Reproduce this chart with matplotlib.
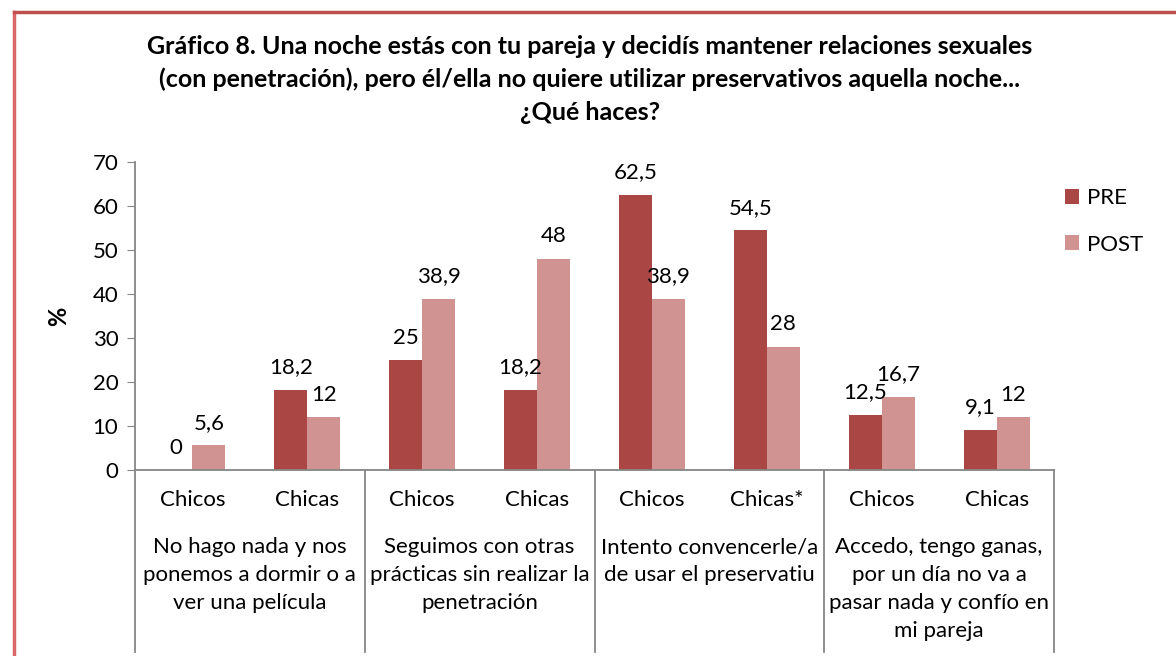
import matplotlib
matplotlib.use("Agg")
import matplotlib.pyplot as plt
from matplotlib.transforms import blended_transform_factory
from matplotlib.lines import Line2D

plt.rcParams['font.family'] = ['Lato', 'DejaVu Sans']

categories = ["Chicos", "Chicas", "Chicos", "Chicas", "Chicos", "Chicas*", "Chicos", "Chicas"]
groups = [
    "No hago nada y nos\nponemos a dormir o a\nver una película",
    "Seguimos con otras\nprácticas sin realizar la\npenetración",
    "Intento convencerle/a\nde usar el preservatiu",
    "Accedo, tengo ganas,\npor un día no va a\npasar nada y confío en\nmi pareja",
]
pre = [0, 18.2, 25, 18.2, 62.5, 54.5, 12.5, 9.1]
post = [5.6, 12, 38.9, 48, 38.9, 28, 16.7, 12]
series_names = ["PRE", "POST"]
title = ("Gráfico 8. Una noche estás con tu pareja y decidís mantener relaciones sexuales\n"
         "(con penetración), pero él/ella no quiere utilizar preservativos aquella noche...\n"
         "¿Qué haces?")

W, H = 1176, 656
fig = plt.figure(figsize=(W / 100, H / 100), dpi=100)
ax = fig.add_axes([135 / W, 1 - 470 / H, (1054 - 135) / W, (470 - 162) / H])

c_pre = "#AA4643"
c_post = "#D09392"
axis_c = "#868686"
bw = 0.287
xs = list(range(len(categories)))
fs = 16

def fmt(v):
    s = ("%g" % v)
    return s.replace(".", ",")

b1 = ax.bar([x - bw / 2 for x in xs], pre, width=bw, color=c_pre, label=series_names[0])
b2 = ax.bar([x + bw / 2 for x in xs], post, width=bw, color=c_post, label=series_names[1])
for bars, vals in ((b1, pre), (b2, post)):
    for r, v in zip(bars, vals):
        ax.annotate(fmt(v), (r.get_x() + r.get_width() / 2, v), xytext=(0, 9),
                    textcoords="offset points", ha="center", va="bottom", fontsize=fs)

ax.set_xlim(-0.5, len(categories) - 0.5)
ax.set_ylim(0, 70)
ax.set_yticks(range(0, 71, 10))
ax.tick_params(axis='y', direction='out', length=6, color=axis_c, labelsize=fs, pad=6)
ax.set_xticks([])
for s in ("top", "right"):
    ax.spines[s].set_visible(False)
for s in ("left", "bottom"):
    ax.spines[s].set_color(axis_c)
    ax.spines[s].set_linewidth(1.3)
ax.set_ylabel("%", fontsize=17, fontweight="bold", labelpad=16)

tr = blended_transform_factory(ax.transData, fig.transFigure)
def fy(p):
    return 1 - p / H

for i, c in enumerate(categories):
    ax.text(i, fy(500), c, transform=tr, ha="center", va="center", fontsize=fs)
for g, lab in enumerate(groups):
    ax.text(2 * g + 0.5, fy(537), lab, transform=tr, ha="center", va="top",
            fontsize=fs, linespacing=1.5)
for g in range(len(groups) + 1):
    x = 2 * g - 0.5
    ax.add_line(Line2D([x, x], [fy(470), fy(652)], transform=tr, color=axis_c,
                       lw=1.3, clip_on=False))

leg = fig.legend(handles=[b1, b2], labels=series_names, loc="upper left",
                 bbox_to_anchor=(1045 / W, 1 - 168 / H), frameon=False, fontsize=fs,
                 handlelength=0.65, handleheight=0.65, labelspacing=1.2, handletextpad=0.35)

fig.text(590 / W, 1 - 35 / H, title, ha="center", va="top", fontsize=18,
         fontweight="bold", linespacing=1.5)

# outer border (left and top visible)
fig.add_artist(Line2D([14 / W, 14 / W], [0, 1 - 12 / H], transform=fig.transFigure,
                      color="#D9676A", lw=2.5))
fig.add_artist(Line2D([14 / W, 1], [1 - 12 / H, 1 - 12 / H], transform=fig.transFigure,
                      color="#C0504D", lw=2.5))

fig.savefig("out.png", dpi=100)
